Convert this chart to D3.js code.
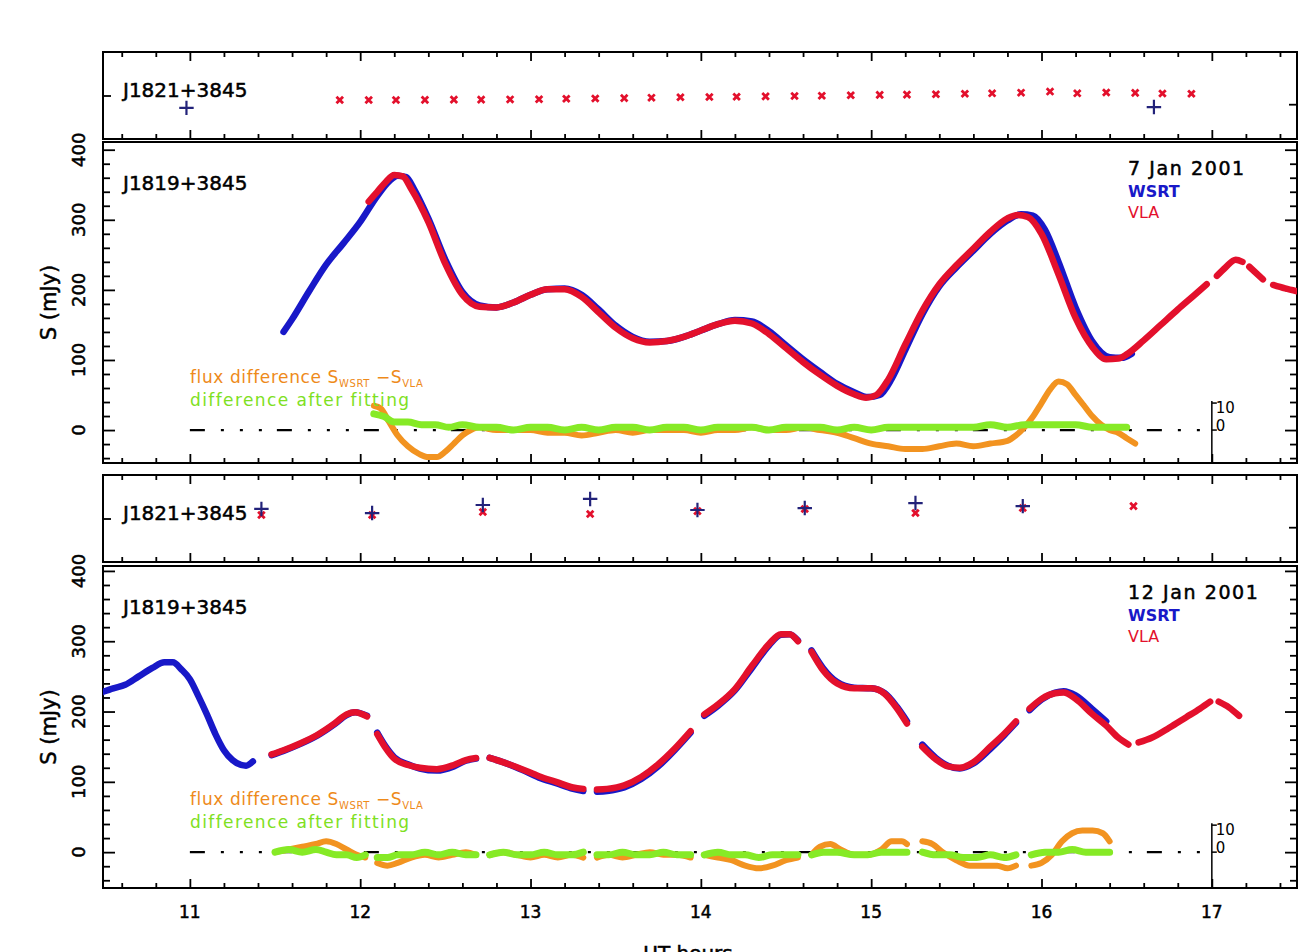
<!DOCTYPE html>
<html>
<head>
<meta charset="utf-8">
<title>J1819+3845 WSRT / VLA</title>
<script src="https://cdn.jsdelivr.net/npm/d3@7/dist/d3.min.js"></script>
<style>
  body { margin: 0; background: #fff; }
  svg { display: block; font-family: 'DejaVu Sans', sans-serif; }
  .ink { stroke: #000; stroke-width: 0.5; }
</style>
</head>
<body>
<svg id="mainsvg" width="1312" height="952"></svg>
<script>
// ---------- data: [UT hour, flux mJy], null = gap ----------
const wsrt7 = [[11.55,140],[11.6,158],[11.7,198],[11.8,236],[11.9,266],[12.0,297],[12.1,334],[12.17,355],[12.22,363],[12.27,361],[12.32,342],[12.4,302],[12.5,243],[12.6,197],[12.7,178],[12.8,175],[12.9,182],[13.0,193],[13.1,201],[13.2,202],[13.3,193],[13.4,172],[13.5,149],[13.6,133],[13.7,126],[13.8,127],[13.9,133],[14.0,142],[14.1,151],[14.2,157],[14.3,155],[14.4,141],[14.5,121],[14.6,101],[14.7,83],[14.8,66],[14.9,54],[14.98,47],[15.05,50],[15.12,73],[15.2,114],[15.3,165],[15.4,205],[15.5,232],[15.6,256],[15.7,280],[15.8,299],[15.88,308],[15.95,306],[16.02,286],[16.1,240],[16.2,175],[16.3,126],[16.4,104],[16.47,103],[16.53,109]];
const vla7 = [[12.05,326],[12.1,340],[12.15,354],[12.2,364],[12.25,362],[12.3,344],[12.4,297],[12.5,237],[12.6,193],[12.7,176],[12.8,175],[12.9,182],[13.0,193],[13.1,201],[13.2,201],[13.3,190],[13.4,168],[13.5,146],[13.6,131],[13.7,125],[13.8,127],[13.9,133],[14.0,142],[14.1,151],[14.2,156],[14.3,152],[14.4,137],[14.5,117],[14.6,97],[14.7,79],[14.8,63],[14.9,51],[14.97,46],[15.03,50],[15.1,72],[15.2,122],[15.3,170],[15.4,208],[15.5,235],[15.6,259],[15.7,283],[15.8,302],[15.86,307],[15.92,304],[16.0,280],[16.1,222],[16.2,160],[16.3,118],[16.38,101],[16.45,102],[16.5,108],[16.6,128],[16.7,150],[16.8,172],[16.9,193],[16.97,208],[17.0,null],[17.03,220],[17.08,232],[17.14,243],[17.18,240],[17.2,null],[17.22,233],[17.3,215],[17.33,null],[17.36,207],[17.43,202],[17.5,198]];
const diff7 = [[12.08,9],[12.12,8],[12.17,3],[12.22,-2],[12.28,-6],[12.35,-9],[12.4,-10],[12.45,-10],[12.5,-8],[12.55,-5],[12.6,-2],[12.65,0],[12.7,1],[12.8,0],[12.9,0],[13.0,0],[13.1,-1],[13.2,-1],[13.3,-2],[13.4,-1],[13.5,0],[13.6,-1],[13.7,0],[13.8,0],[13.9,0],[14.0,-1],[14.1,0],[14.2,0],[14.3,1],[14.4,0],[14.5,0],[14.6,1],[14.7,0],[14.8,-1],[14.9,-3],[15.0,-5],[15.1,-6],[15.2,-7],[15.3,-7],[15.4,-6],[15.5,-5],[15.6,-6],[15.7,-5],[15.8,-4],[15.85,-2],[15.9,1],[15.95,5],[16.0,10],[16.05,15],[16.1,18],[16.15,17],[16.2,13],[16.25,9],[16.3,5],[16.35,2],[16.4,0],[16.45,-1],[16.5,-3],[16.55,-5]];
const fit7 = [[12.08,6],[12.14,5],[12.2,3],[12.28,3],[12.36,2],[12.44,2],[12.52,1],[12.6,2],[12.7,1],[12.8,1],[12.9,0],[13.0,1],[13.1,1],[13.2,0],[13.3,1],[13.4,0],[13.5,1],[13.6,1],[13.7,0],[13.8,1],[13.9,1],[14.0,0],[14.1,1],[14.2,1],[14.3,1],[14.4,0],[14.5,1],[14.6,1],[14.7,1],[14.8,0],[14.9,1],[15.0,0],[15.1,1],[15.2,1],[15.3,1],[15.4,1],[15.5,1],[15.6,1],[15.7,2],[15.8,1],[15.9,2],[16.0,2],[16.1,2],[16.2,2],[16.3,1],[16.4,1],[16.5,1]];

const wsrt12 = [[10.49,228],[10.55,233],[10.62,238],[10.7,250],[10.78,262],[10.85,270],[10.9,270],[10.95,260],[11.0,246],[11.05,222],[11.1,196],[11.15,168],[11.2,145],[11.25,131],[11.3,124],[11.33,123],[11.37,129],[11.42,null],
  [11.48,138],[11.55,144],[11.65,154],[11.75,166],[11.85,182],[11.92,195],[11.97,199],[12.04,194],[12.07,null],
  [12.1,170],[12.15,150],[12.2,135],[12.28,125],[12.35,119],[12.45,116],[12.55,122],[12.62,130],[12.68,133],[12.72,null],
  [12.76,134],[12.85,127],[12.95,117],[13.05,106],[13.15,98],[13.25,90],[13.31,87],[13.35,null],
  [13.39,86],[13.45,87],[13.55,92],[13.65,104],[13.75,122],[13.85,146],[13.94,170],[13.98,null],
  [14.02,194],[14.1,208],[14.2,230],[14.3,262],[14.4,294],[14.47,309],[14.52,310],[14.57,301],[14.61,null],
  [14.65,287],[14.72,261],[14.8,242],[14.9,234],[15.0,233],[15.08,226],[15.15,207],[15.21,186],[15.26,null],
  [15.3,153],[15.38,134],[15.45,123],[15.52,119],[15.6,126],[15.7,147],[15.78,166],[15.85,184],[15.89,null],
  [15.93,202],[16.0,217],[16.08,227],[16.13,229],[16.2,223],[16.3,203],[16.38,186]];
const vla12 = [[11.48,139],[11.55,145],[11.65,155],[11.75,167],[11.85,183],[11.92,196],[11.97,199],[12.04,193],[12.07,null],
  [12.1,168],[12.15,148],[12.2,133],[12.28,124],[12.35,120],[12.45,118],[12.55,124],[12.62,131],[12.68,134],[12.72,null],
  [12.76,134],[12.85,127],[12.95,118],[13.05,108],[13.15,100],[13.25,92],[13.31,90],[13.35,null],
  [13.39,89],[13.45,90],[13.55,95],[13.65,107],[13.75,125],[13.85,148],[13.94,172],[13.98,null],
  [14.02,196],[14.1,210],[14.2,232],[14.3,265],[14.4,296],[14.47,310],[14.52,310],[14.57,300],[14.61,null],
  [14.65,285],[14.72,258],[14.8,240],[14.9,233],[15.0,233],[15.08,225],[15.15,205],[15.21,183],[15.26,null],
  [15.3,150],[15.38,132],[15.45,122],[15.52,120],[15.6,128],[15.7,150],[15.78,168],[15.85,186],[15.89,null],
  [15.93,204],[16.0,218],[16.08,226],[16.13,227],[16.2,218],[16.3,196],[16.38,180],[16.45,163],[16.51,153],[16.54,null],
  [16.57,156],[16.65,163],[16.75,177],[16.85,192],[16.93,204],[16.99,214],[17.01,null],
  [17.04,214],[17.1,206],[17.16,194]];
const diff12 = [[11.5,0],[11.58,1],[11.66,2],[11.74,3],[11.8,4],[11.86,3],[11.92,1],[11.98,-1],[12.03,-2],[12.07,null],
  [12.1,-4],[12.16,-5],[12.22,-4],[12.3,-2],[12.38,-1],[12.46,-2],[12.54,-1],[12.62,0],[12.68,-1],[12.72,null],
  [12.76,-1],[12.84,0],[12.92,-1],[13.0,-2],[13.08,-1],[13.16,-2],[13.24,-1],[13.31,-2],[13.35,null],
  [13.39,-2],[13.46,-1],[13.54,-2],[13.62,-1],[13.7,0],[13.78,-1],[13.86,-1],[13.94,-2],[13.98,null],
  [14.02,-1],[14.1,-2],[14.18,-3],[14.26,-5],[14.34,-6],[14.42,-5],[14.5,-3],[14.57,-2],[14.61,null],
  [14.65,-1],[14.7,2],[14.76,3],[14.82,1],[14.9,-1],[14.98,-1],[15.06,1],[15.12,4],[15.18,4],[15.21,3],[15.26,null],
  [15.3,4],[15.36,3],[15.42,0],[15.5,-3],[15.58,-5],[15.66,-5],[15.74,-5],[15.8,-6],[15.85,-5],[15.89,null],
  [15.94,-5],[16.0,-4],[16.06,-1],[16.12,4],[16.18,7],[16.24,8],[16.3,8],[16.36,7],[16.4,4]];
const fit12 = [[11.5,0],[11.58,1],[11.66,0],[11.74,1],[11.8,0],[11.86,-1],[11.92,-1],[11.98,-2],[12.03,-1],[12.07,null],
  [12.1,-2],[12.16,-2],[12.22,-1],[12.3,-1],[12.38,0],[12.46,-1],[12.54,0],[12.62,-1],[12.68,-1],[12.72,null],
  [12.76,-1],[12.84,0],[12.92,-1],[13.0,-1],[13.08,0],[13.16,-1],[13.24,-1],[13.31,0],[13.35,null],
  [13.39,-1],[13.46,-1],[13.54,0],[13.62,-1],[13.7,-1],[13.78,0],[13.86,-1],[13.94,-1],[13.98,null],
  [14.02,-1],[14.1,0],[14.18,-1],[14.26,-1],[14.34,-2],[14.42,-1],[14.5,-1],[14.57,-1],[14.61,null],
  [14.65,-1],[14.72,0],[14.8,0],[14.9,-1],[14.98,-1],[15.06,0],[15.14,0],[15.21,0],[15.26,null],
  [15.3,0],[15.38,-1],[15.46,-1],[15.54,-2],[15.62,-2],[15.7,-1],[15.78,-2],[15.85,-1],[15.89,null],
  [15.94,-1],[16.02,0],[16.1,0],[16.18,1],[16.26,0],[16.34,0],[16.4,0]];

// calibrator J1821+3845
const vlaCal7 = [[11.88,47.9],[12.05,47.9],[12.21,47.9],[12.38,48.0],[12.55,48.1],[12.71,48.1],[12.88,48.2],[13.05,48.3],[13.21,48.5],[13.38,48.6],[13.55,48.8],[13.71,49.0],[13.88,49.2],[14.05,49.3],[14.21,49.4],[14.38,49.6],[14.55,49.8],[14.71,49.9],[14.88,50.1],[15.05,50.3],[15.21,50.4],[15.38,50.6],[15.55,50.8],[15.71,51.0],[15.88,51.3],[16.05,51.8],[16.21,51.0],[16.38,51.4],[16.55,51.2],[16.71,50.9],[16.88,50.8]];
const wsrtCal7 = [[10.98,44.3],[16.66,44.7]];
const vlaCal12 = [[11.42,51.6],[12.07,51.6],[12.72,53.0],[13.35,52.1],[13.98,53.4],[14.61,54.4],[15.26,52.5],[15.89,54.8],[16.54,55.7]];
const wsrtCal12 = [[11.42,54.4],[12.07,52.5],[12.72,56.2],[13.35,59.0],[13.98,53.9],[14.61,54.8],[15.26,57.1],[15.89,55.7]];

const xMajor = [11, 12, 13, 14, 15, 16, 17];
const fluxMajor = [0, 100, 200, 300, 400];
const calLeftTick = 50, calRightTick = 46;
const dates = ['7 Jan 2001', '12 Jan 2001'];

// ---------- layout ----------
const svg = d3.select('#mainsvg');
const C = { wsrt: '#1818c8', vla: '#e3102c', diff: '#f29320', fit: '#86ea26', cal: '#22227a' };
const x = d3.scaleLinear().domain([10.49, 17.5]).range([103, 1297]);
const [xl, xr] = x.range();
const xMinor = d3.range(53, 88).filter(i => i % 5 !== 0).map(i => i / 5);

const cal7 = { top: 52, bottom: 139 };
const src7 = { top: 142, bottom: 463, dom: [-47, 411] };
const cal12 = { top: 475, bottom: 562 };
const src12 = { top: 566, bottom: 888, dom: [-51, 407] };

const frame = p => svg.append('rect')
  .attr('x', xl).attr('y', p.top).attr('width', xr - xl).attr('height', p.bottom - p.top)
  .attr('fill', 'none').attr('stroke', '#000').attr('stroke-width', 2);

const tickGroup = (gen, tr) => {
  const g = svg.append('g').attr('transform', tr).call(gen);
  g.select('.domain').remove();
  g.selectAll('line').attr('stroke', '#000').attr('stroke-width', 1.8);
  return g;
};

const xTicks = (p, both) => {
  tickGroup(d3.axisTop(x).tickValues(xMajor).tickSize(9).tickFormat(''), `translate(0,${p.bottom})`);
  tickGroup(d3.axisTop(x).tickValues(xMinor).tickSize(5).tickFormat(''), `translate(0,${p.bottom})`);
  if (both) {
    tickGroup(d3.axisBottom(x).tickValues(xMajor).tickSize(9).tickFormat(''), `translate(0,${p.top})`);
    tickGroup(d3.axisBottom(x).tickValues(xMinor).tickSize(5).tickFormat(''), `translate(0,${p.top})`);
  }
};

const clipFor = (id, p) => {
  svg.append('clipPath').attr('id', id).append('rect')
    .attr('x', xl).attr('y', p.top).attr('width', xr - xl).attr('height', p.bottom - p.top);
  return svg.append('g').attr('clip-path', `url(#${id})`);
};

// ---------- calibrator panels ----------
function calPanel(p, vla, wsrt, sideLabelY) {
  const y = d3.scaleLinear().domain([30, 70]).range([p.bottom, p.top]);
  frame(p);
  xTicks(p, true);
  tickGroup(d3.axisRight(y).tickValues([calLeftTick]).tickSize(8).tickFormat(''), `translate(${xl},0)`);
  tickGroup(d3.axisLeft(y).tickValues([calRightTick]).tickSize(8).tickFormat(''), `translate(${xr},0)`);

  svg.append('text').attr('class', 'ink').attr('x', 123).attr('y', p.top + 45)
    .attr('font-size', 20).attr('fill', '#000').text('J1821+3845');

  svg.append('g').selectAll('path').data(vla).join('path')
    .attr('transform', d => `translate(${x(d[0])},${y(d[1])})`)
    .attr('d', d3.symbol().type(d3.symbolX).size(30))
    .attr('fill', 'none').attr('stroke', C.vla).attr('stroke-width', 2.8);
  svg.append('g').selectAll('path').data(wsrt).join('path')
    .attr('transform', d => `translate(${x(d[0])},${y(d[1])})`)
    .attr('d', d3.symbol().type(d3.symbolPlus).size(70))
    .attr('fill', 'none').attr('stroke', C.cal).attr('stroke-width', 2.2);

  // right-hand labels, mostly outside the page
  sideLabelY.forEach((yy, i) => {
    svg.append('text').attr('transform', `translate(1314,${yy}) rotate(90)`)
      .attr('text-anchor', 'middle').attr('font-size', 16).attr('fill', '#000')
      .text(['300', '400', '500'][i]);
  });
}

// ---------- source panels ----------
function srcPanel(p, id, wsrt, vla, diff, fit, date) {
  const y = d3.scaleLinear().domain(p.dom).range([p.bottom, p.top]);
  const y0 = y(0);
  const yd = d3.scaleLinear().domain([0, 10]).range([y0, y0 - 27]);
  const fluxMinor = d3.range(-40, 401, 20).filter(v => v % 100 !== 0);

  frame(p);
  xTicks(p, false);
  tickGroup(d3.axisRight(y).tickValues(fluxMajor).tickSize(12).tickFormat(''), `translate(${xl},0)`);
  tickGroup(d3.axisRight(y).tickValues(fluxMinor).tickSize(7).tickFormat(''), `translate(${xl},0)`);
  tickGroup(d3.axisLeft(y).tickValues(fluxMajor).tickSize(12).tickFormat(''), `translate(${xr},0)`);
  tickGroup(d3.axisLeft(y).tickValues(fluxMinor).tickSize(7).tickFormat(''), `translate(${xr},0)`);

  svg.append('g').selectAll('text').data(fluxMajor).join('text')
    .attr('class', 'ink')
    .attr('transform', d => `translate(78,${y(d)}) rotate(-90)`)
    .attr('text-anchor', 'middle').attr('dominant-baseline', 'central')
    .attr('font-size', 18).attr('fill', '#000').text(d => d);
  svg.append('text').attr('class', 'ink')
    .attr('transform', `translate(49,${(p.top + p.bottom) / 2}) rotate(-90)`)
    .attr('text-anchor', 'middle').attr('dominant-baseline', 'central')
    .attr('font-size', 21).attr('fill', '#000').text('S (mJy)');

  // zero line and difference scale bar
  svg.append('line').attr('x1', x(11)).attr('x2', x(16.95)).attr('y1', y0).attr('y2', y0)
    .attr('stroke', '#000').attr('stroke-width', 2.2).attr('stroke-dasharray', '15,16,3,16,3,16,3,15');
  svg.append('line').attr('x1', x(17)).attr('x2', x(17)).attr('y1', yd(10) - 2).attr('y2', p.bottom)
    .attr('stroke', '#000').attr('stroke-width', 1.5);
  [0, 10].forEach(v => {
    svg.append('line').attr('x1', x(17)).attr('x2', x(17) + 5).attr('y1', yd(v)).attr('y2', yd(v))
      .attr('stroke', '#000').attr('stroke-width', 1.5);
    svg.append('text').attr('x', x(17) + 4).attr('y', v === 0 ? yd(v) + 1 : yd(v) + 10)
      .attr('font-size', 15).attr('fill', '#000').text(v);
  });

  const plot = clipFor(id, p);
  const line = sc => d3.line().defined(d => d[1] !== null)
    .x(d => x(d[0])).y(d => sc(d[1])).curve(d3.curveMonotoneX);
  const draw = (data, sc, color, w) => plot.append('path').datum(data)
    .attr('d', line(sc)).attr('fill', 'none').attr('stroke', color)
    .attr('stroke-width', w).attr('stroke-linecap', 'round').attr('stroke-linejoin', 'round');

  draw(diff, yd, C.diff, 6);
  draw(fit, yd, C.fit, 7);
  draw(wsrt, y, C.wsrt, 6.5);
  draw(vla, y, C.vla, 6.5);

  // labels
  svg.append('text').attr('class', 'ink').attr('x', 123).attr('y', p.top + 48)
    .attr('font-size', 20).attr('fill', '#000').text('J1819+3845');
  svg.append('text').attr('class', 'ink').attr('x', 1128).attr('y', p.top + 33)
    .attr('font-size', 19).attr('letter-spacing', 1.6).attr('fill', '#000').text(date);
  svg.append('text').attr('x', 1128).attr('y', p.top + 55)
    .attr('font-size', 16).attr('font-weight', 'bold').attr('fill', C.wsrt).text('WSRT');
  svg.append('text').attr('x', 1128).attr('y', p.top + 76)
    .attr('font-size', 16).attr('fill', C.vla).text('VLA');

  const leg = svg.append('text').attr('x', 190).attr('y', y0 - 47)
    .attr('font-size', 17).attr('letter-spacing', 0.6).attr('fill', '#ee8a1a');
  leg.append('tspan').text('flux difference S');
  leg.append('tspan').attr('font-size', 10).attr('dy', 4).text('WSRT');
  leg.append('tspan').attr('dy', -4).text(' \u2212S');
  leg.append('tspan').attr('font-size', 10).attr('dy', 4).text('VLA');
  svg.append('text').attr('x', 190).attr('y', y0 - 24)
    .attr('font-size', 17).attr('letter-spacing', 1.4).attr('fill', '#7ee022')
    .text('difference after fitting');
}

calPanel(cal7, vlaCal7, wsrtCal7, [66, 96, 126]);
srcPanel(src7, 'clip7', wsrt7, vla7, diff7, fit7, dates[0]);
calPanel(cal12, vlaCal12, wsrtCal12, [462, 550, 586]);
srcPanel(src12, 'clip12', wsrt12, vla12, diff12, fit12, dates[1]);

// bottom axis labels
svg.append('g').selectAll('text').data(xMajor).join('text')
  .attr('class', 'ink')
  .attr('x', d => x(d)).attr('y', 918).attr('text-anchor', 'middle')
  .attr('font-size', 17).attr('fill', '#000').text(d => d);
svg.append('text').attr('class', 'ink').attr('x', 688).attr('y', 960).attr('text-anchor', 'middle')
  .attr('font-size', 20).attr('fill', '#000').text('UT hours');
</script>
</body>
</html>
